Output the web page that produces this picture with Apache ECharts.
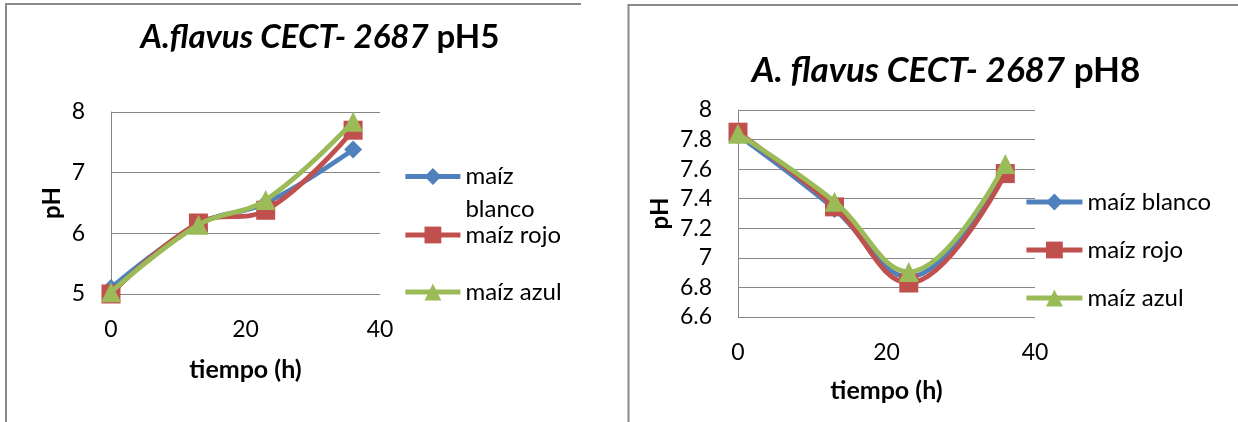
<!DOCTYPE html>
<html>
<head>
<meta charset="utf-8">
<script src="https://cdn.jsdelivr.net/npm/echarts@6/dist/echarts.min.js"></script>
<style>
  html, body { margin: 0; padding: 0; background: #ffffff; }
  #chart { width: 1238px; height: 422px; }
</style>
</head>
<body>
<div id="chart"></div>
<script>
// Sampling times (hours)
const hours = [0, 13, 23, 36];

// pH readings, initial pH 5
const ph5Blanco = [5.10, 6.15, 6.50, 7.38];
const ph5Rojo   = [5.00, 6.17, 6.38, 7.70];
const ph5Azul   = [5.03, 6.14, 6.55, 7.84];

// pH readings, initial pH 8
const ph8Blanco = [7.83, 7.33, 6.87, 7.60];
const ph8Rojo   = [7.85, 7.345, 6.83, 7.57];
const ph8Azul   = [7.84, 7.38, 6.905, 7.635];

const seriesNames = ['maíz blanco', 'maíz rojo', 'maíz azul'];
const titleParts = [['A.flavus CECT- 2687', 'pH5'], ['A. flavus CECT- 2687', 'pH8']];
const xAxisName = 'tiempo (h)';
const yAxisName = 'pH';

// Axis ranges: [min, max, interval]
const xRange = [0, 40, 20];
const yRange5 = [5, 8, 1];
const yRange8 = [6.6, 8, 0.2];

const FONT = 'Lato';
const COLORS = ['#4F81BD', '#C0504D', '#9BBB59'];
const SYMBOLS = ['diamond', 'rect', 'triangle'];
const SYMBOL_SIZES = [18, 19, 20];
const LINE_WIDTH = 4.8;
const GRID_LINE = '#868686';

const chart = echarts.init(document.getElementById('chart'), null, { renderer: 'canvas' });

function lineSeries(idx, values, panel) {
  return {
    name: seriesNames[idx],
    type: 'line',
    xAxisIndex: panel,
    yAxisIndex: panel,
    data: hours.map((h, k) => [h, values[k]]),
    smooth: 0.4,
    symbol: SYMBOLS[idx],
    symbolSize: SYMBOL_SIZES[idx],
    showAllSymbol: true,
    lineStyle: { width: LINE_WIDTH, color: COLORS[idx] },
    itemStyle: { color: COLORS[idx] },
    emphasis: { disabled: true },
    z: 2 + idx
  };
}

function titleFor(parts, center, top, size) {
  const base = { fontFamily: FONT, fontSize: size, fontWeight: 'bold', color: '#000', lineHeight: size + 4 };
  return {
    text: '{i|' + parts[0] + '} {b|' + parts[1] + '}',
    left: center,
    top: top,
    textAlign: 'center',
    textVerticalAlign: 'top',
    padding: 0,
    textStyle: Object.assign({}, base, {
      rich: {
        i: Object.assign({}, base, { fontStyle: 'italic' }),
        b: Object.assign({}, base)
      }
    })
  };
}

// One legend block per entry so each row sits at its own height
function legendFor(name, left, top, itemWidth, text, lineHeight) {
  return {
    data: [name],
    left: left,
    top: top,
    padding: 0,
    itemWidth: itemWidth,
    itemHeight: 21,
    itemGap: 0,
    selectedMode: false,
    lineStyle: { width: LINE_WIDTH },
    formatter: () => text,
    textStyle: { fontFamily: FONT, fontSize: 24, color: '#000', lineHeight: lineHeight }
  };
}

function xAxisFor(panel, gap) {
  return {
    gridIndex: panel,
    type: 'value',
    min: xRange[0], max: xRange[1], interval: xRange[2],
    axisLine: { show: false },
    axisTick: { show: false },
    splitLine: { show: false },
    axisLabel: { fontFamily: FONT, fontSize: 23, color: '#000', margin: 24 },
    name: xAxisName,
    nameLocation: 'middle',
    nameGap: gap,
    nameTextStyle: { fontFamily: FONT, fontSize: 25, fontWeight: 'bold', color: '#000', lineHeight: 25 }
  };
}

function yAxisFor(panel, range, gap) {
  return {
    gridIndex: panel,
    type: 'value',
    min: range[0], max: range[1], interval: range[2],
    axisLine: { show: true, lineStyle: { color: GRID_LINE, width: 1 } },
    axisTick: { show: false },
    splitLine: { show: true, lineStyle: { color: GRID_LINE, width: 1 } },
    axisLabel: { fontFamily: FONT, fontSize: 23, color: '#000', margin: 26 },
    name: yAxisName,
    nameLocation: 'middle',
    nameRotate: 90,
    nameGap: gap,
    nameTextStyle: { fontFamily: FONT, fontSize: 24, fontWeight: 'bold', color: '#000', lineHeight: 24 }
  };
}

const option = {
  animation: false,
  backgroundColor: '#ffffff',
  title: [
    titleFor(titleParts[0], 320, 19, 33),
    titleFor(titleParts[1], 946, 51, 35)
  ],
  legend: [
    legendFor(seriesNames[0], 403, 127, 55, '\nmaíz\nblanco', 33),
    legendFor(seriesNames[1], 403, 223, 55, 'maíz rojo', 24),
    legendFor(seriesNames[2], 403, 280, 55, 'maíz azul', 24),
    legendFor(seriesNames[0], 1024, 190, 56, 'maíz blanco', 24),
    legendFor(seriesNames[1], 1024, 238, 56, 'maíz rojo', 24),
    legendFor(seriesNames[2], 1024, 286, 56, 'maíz azul', 24)
  ],
  grid: [
    { left: 111, top: 112, width: 269, height: 182 },
    { left: 738, top: 110, width: 297, height: 207 }
  ],
  xAxis: [xAxisFor(0, 63), xAxisFor(1, 61)],
  yAxis: [yAxisFor(0, yRange5, 47), yAxisFor(1, yRange8, 66)],
  series: [
    lineSeries(0, ph5Blanco, 0),
    lineSeries(1, ph5Rojo, 0),
    lineSeries(2, ph5Azul, 0),
    lineSeries(0, ph8Blanco, 1),
    lineSeries(1, ph8Rojo, 1),
    lineSeries(2, ph8Azul, 1)
  ],
  graphic: [
    // panel frames
    { type: 'polyline', silent: true, shape: { points: [[6, 422], [6, 4], [581, 4]] },
      style: { stroke: '#8a8a8a', lineWidth: 2, fill: null } },
    { type: 'polyline', silent: true, shape: { points: [[628.5, 422], [628.5, 5], [1238, 5]] },
      style: { stroke: '#8a8a8a', lineWidth: 2, fill: null } }
  ]
};

chart.setOption(option);
</script>
</body>
</html>
